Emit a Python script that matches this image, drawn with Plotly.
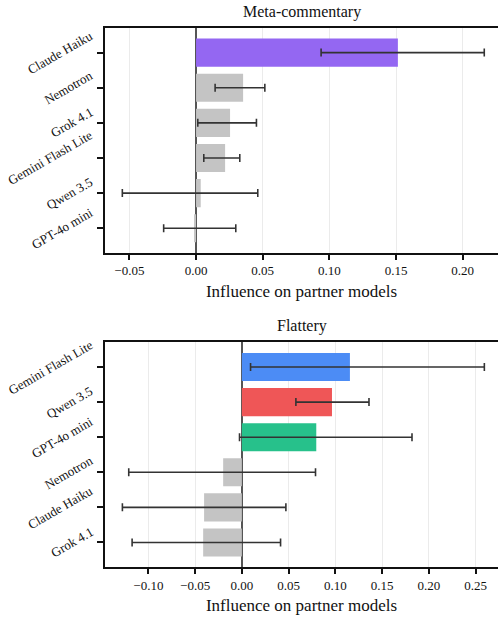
import plotly.graph_objects as go
from plotly.subplots import make_subplots

# Meta-commentary panel
meta_models = ["Claude Haiku", "Nemotron", "Grok 4.1", "Gemini Flash Lite", "Qwen 3.5", "GPT-4o mini"]
meta_values = [0.1514, 0.0353, 0.0255, 0.0218, 0.0035, -0.0015]
meta_lo = [0.0938, 0.0143, 0.0013, 0.0058, -0.0553, -0.0243]
meta_hi = [0.2162, 0.0516, 0.0453, 0.0328, 0.0463, 0.0298]
meta_colors = ["#9467F2", "#C4C4C4", "#C4C4C4", "#C4C4C4", "#C4C4C4", "#C4C4C4"]

# Flattery panel
flat_models = ["Gemini Flash Lite", "Qwen 3.5", "GPT-4o mini", "Nemotron", "Claude Haiku", "Grok 4.1"]
flat_values = [0.1156, 0.0964, 0.0796, -0.0200, -0.0404, -0.0414]
flat_lo = [0.0093, 0.0578, -0.0025, -0.1210, -0.1278, -0.1174]
flat_hi = [0.2594, 0.1360, 0.1820, 0.0788, 0.0471, 0.0414]
flat_colors = ["#4C8CF5", "#EF5657", "#27C18B", "#C4C4C4", "#C4C4C4", "#C4C4C4"]

meta_ticks = [-0.05, 0.0, 0.05, 0.10, 0.15, 0.20]
flat_ticks = [-0.10, -0.05, 0.0, 0.05, 0.10, 0.15, 0.20, 0.25]

FONT = "Liberation Serif, Times New Roman, serif"
INK = "#111111"

fig = make_subplots(rows=2, cols=1, vertical_spacing=0.0)
annotations = []


def add_panel(row, models, values, lo, hi, colors):
    plus = [h - v for h, v in zip(hi, values)]
    minus = [v - l for l, v in zip(lo, values)]
    fig.add_trace(
        go.Bar(
            x=values, y=models, orientation="h",
            marker=dict(color=colors, line=dict(width=0)),
            width=0.8,
            error_x=dict(type="data", symmetric=False, array=plus, arrayminus=minus,
                         color="#333333", thickness=1.6, width=4),
            showlegend=False,
        ),
        row=row, col=1,
    )
    # rotated category labels, right edge of the rotated box at the tick
    suffix = "" if row == 1 else str(row)
    for m in models:
        annotations.append(dict(
            text=m, x=0, xref=f"x{suffix} domain", y=m, yref=f"y{suffix}",
            xanchor="right", yanchor="middle", xshift=-7, textangle=-30,
            showarrow=False, font=dict(family=FONT, size=13, color=INK),
        ))


add_panel(1, meta_models, meta_values, meta_lo, meta_hi, meta_colors)
add_panel(2, flat_models, flat_values, flat_lo, flat_hi, flat_colors)

xcommon = dict(
    showgrid=True, gridcolor="#EBEBEB", gridwidth=1,
    zeroline=True, zerolinecolor="#555555", zerolinewidth=1.5,
    showline=True, linecolor=INK, linewidth=2, mirror=True,
    ticks="outside", ticklen=5, tickwidth=1.5, tickcolor=INK,
    tickfont=dict(family=FONT, size=13, color=INK),
    title=dict(text="Influence on partner models", font=dict(family=FONT, size=17, color=INK),
               standoff=8),
)
ycommon = dict(
    showgrid=False, zeroline=False,
    showline=True, linecolor=INK, linewidth=2, mirror=False,
    ticks="outside", ticklen=6, tickwidth=1.5, tickcolor=INK,
    showticklabels=False,
    range=[5.7, -0.7],
)

fig.update_xaxes(**xcommon, range=[-0.0683, 0.2265], tickvals=meta_ticks,
                 ticktext=[f"{t:.2f}".replace("-", "\u2212") for t in meta_ticks], row=1, col=1)
fig.update_xaxes(**xcommon, range=[-0.1464, 0.2740], tickvals=flat_ticks,
                 ticktext=[f"{t:.2f}".replace("-", "\u2212") for t in flat_ticks], row=2, col=1)
fig.update_yaxes(**ycommon, row=1, col=1)
fig.update_yaxes(**ycommon, row=2, col=1)

annotations += [
    dict(text="Meta-commentary", x=0.5, xref="paper", y=1.0, yref="paper",
         yanchor="bottom", yshift=5, showarrow=False,
         font=dict(family=FONT, size=16, color=INK)),
    dict(text="Flattery", x=0.5, xref="paper", y=0.4166, yref="paper",
         yanchor="bottom", yshift=5, showarrow=False,
         font=dict(family=FONT, size=16, color=INK)),
]

fig.update_layout(
    template="none",
    width=498, height=622,
    margin=dict(l=105, r=0, t=28, b=55),
    paper_bgcolor="white", plot_bgcolor="white",
    font=dict(family=FONT, color=INK),
    xaxis=dict(domain=[0, 1]), xaxis2=dict(domain=[0, 1]),
    yaxis=dict(domain=[0.5829, 1.0]), yaxis2=dict(domain=[0.0, 0.4166]),
    bargap=0.2,
    annotations=annotations,
)

fig.write_html("out.html")
